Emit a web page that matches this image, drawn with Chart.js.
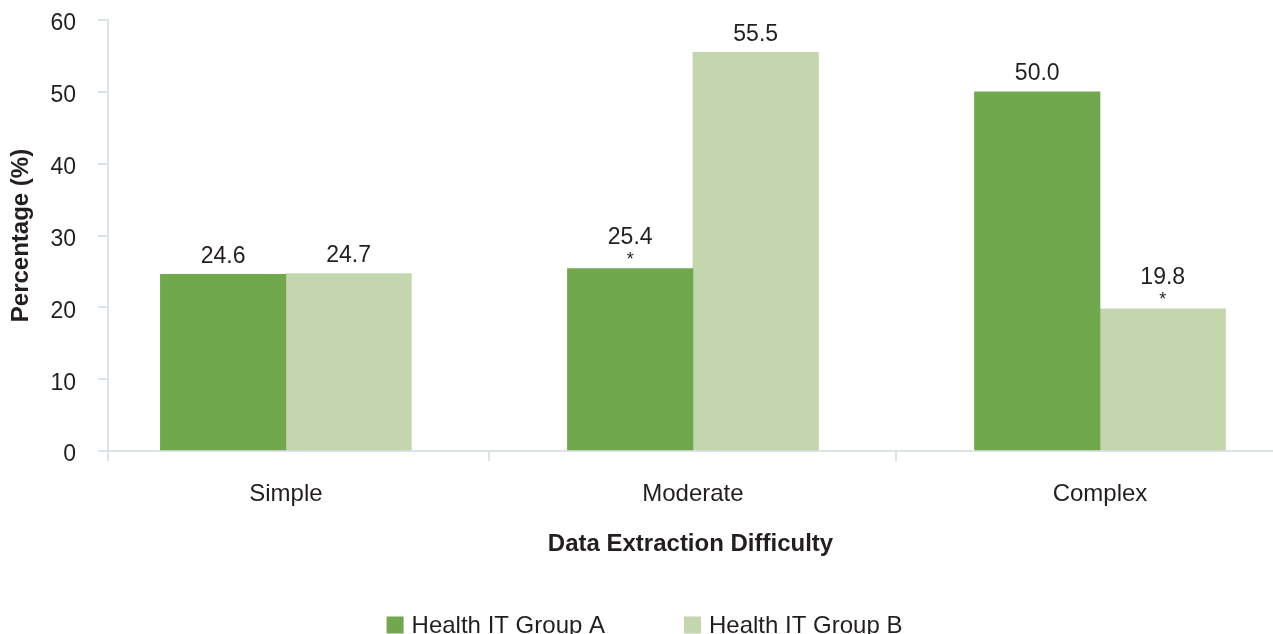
<!DOCTYPE html>
<html>
<head>
<meta charset="utf-8">
<script src="https://cdn.jsdelivr.net/npm/chart.js@4.4.1/dist/chart.umd.min.js"></script>
<style>
  html, body { margin: 0; padding: 0; background: #ffffff; overflow: hidden; }
  #wrap { width: 1273px; height: 634px; position: relative; }
</style>
</head>
<body>
<div id="wrap"><canvas id="c"></canvas></div>
<script>
// ---- data ----
const categories = ['Simple', 'Moderate', 'Complex'];
const seriesNames = ['Health IT Group A', 'Health IT Group B'];
const groupA = [24.6, 25.4, 50.0];
const groupB = [24.7, 55.5, 19.8];
const significantA = [false, true, false];
const significantB = [false, false, true];
const yTicks = [0, 10, 20, 30, 40, 50, 60];

// ---- style ----
const FONT = '"Liberation Sans", Arial, Helvetica, sans-serif';
const TEXT = '#231f20';
const AXIS = '#dde3ea';
const COLOR_A = '#72a84d';
const COLOR_B = '#c3d6ae';

const sigFlags = [significantA, significantB];

const valueLabels = {
  id: 'valueLabels',
  afterDatasetsDraw(chart) {
    const ctx = chart.ctx;
    ctx.save();
    ctx.fillStyle = TEXT;
    ctx.textAlign = 'center';
    ctx.textBaseline = 'middle';
    chart.data.datasets.forEach((ds, di) => {
      const meta = chart.getDatasetMeta(di);
      meta.data.forEach((bar, i) => {
        const v = ds.data[i].y;
        const sig = sigFlags[di][i];
        ctx.font = '23px ' + FONT;
        ctx.fillText(v.toFixed(1), bar.x, bar.y - (sig ? 31 : 18));
        if (sig) {
          ctx.font = '18px ' + FONT;
          ctx.fillText('*', bar.x, bar.y - 9);
        }
      });
    });
    ctx.restore();
  }
};

const customLegend = {
  id: 'customLegend',
  afterDraw(chart) {
    const ctx = chart.ctx;
    ctx.save();
    ctx.font = '24px ' + FONT;
    ctx.textBaseline = 'middle';
    ctx.textAlign = 'left';
    const box = 17, gapBox = 8, gapItem = 79;
    const items = chart.data.datasets.map(d => ({ text: d.label, color: d.backgroundColor, w: ctx.measureText(d.label).width }));
    let total = 0;
    items.forEach((it, i) => { total += box + gapBox + it.w + (i < items.length - 1 ? gapItem : 0); });
    let x = chart.width / 2 + 8 - total / 2;
    const y = 625;
    items.forEach(it => {
      ctx.fillStyle = it.color;
      ctx.fillRect(x, y - box / 2, box, box);
      x += box + gapBox;
      ctx.fillStyle = TEXT;
      ctx.fillText(it.text, x, y + 1);
      x += it.w + gapItem;
    });
    ctx.restore();
  }
};

new Chart(document.getElementById('c'), {
  type: 'bar',
  data: {
    datasets: [
      { label: seriesNames[0], data: groupA.map((v, i) => ({ x: i, y: v })), backgroundColor: COLOR_A, borderWidth: 0 },
      { label: seriesNames[1], data: groupB.map((v, i) => ({ x: i, y: v })), backgroundColor: COLOR_B, borderWidth: 0 }
    ]
  },
  options: {
    responsive: true,
    maintainAspectRatio: false,
    animation: false,
    layout: { padding: { top: 0, right: 0, bottom: 0, left: 0 } },
    datasets: { bar: { barThickness: 125.5 } },
    plugins: {
      legend: { display: false },
      tooltip: { enabled: false }
    },
    scales: {
      x: {
        type: 'linear',
        offset: false,
        min: -0.437,
        max: 2.425,
        afterBuildTicks(scale) {
          scale.ticks = [scale.min, 0, 0.5, 1, 1.5, 2].map(v => ({ value: v }));
        },
        afterFit(scale) { scale.height = 183; },
        ticks: {
          autoSkip: false,
          maxRotation: 0,
          padding: 19,
          color: TEXT,
          font: { family: FONT, size: 24 },
          callback: v => (Number.isInteger(v) ? categories[v] : '')
        },
        grid: {
          offset: false,
          drawOnChartArea: false,
          drawTicks: true,
          tickLength: 10,
          lineWidth: 2,
          tickColor: c => (c.tick && Number.isInteger(c.tick.value) ? 'rgba(0,0,0,0)' : AXIS)
        },
        border: { display: true, color: AXIS, width: 2 },
        title: {
          display: true,
          text: 'Data Extraction Difficulty',
          color: TEXT,
          font: { family: FONT, size: 24, weight: 'bold' },
          padding: { top: 0, bottom: 75 }
        }
      },
      y: {
        min: 0,
        max: 60,
        afterBuildTicks(scale) {
          scale.ticks = yTicks.map(v => ({ value: v }));
        },
        afterFit(scale) { scale.width = 108; scale.paddingTop = 20; },
        ticks: {
          padding: 22,
          labelOffset: 4,
          color: TEXT,
          font: { family: FONT, size: 23 }
        },
        grid: {
          drawOnChartArea: false,
          drawTicks: true,
          tickLength: 10,
          lineWidth: 2,
          tickColor: AXIS
        },
        border: { display: true, color: AXIS, width: 2 },
        title: {
          display: true,
          text: 'Percentage (%)',
          color: TEXT,
          font: { family: FONT, size: 24, weight: 'bold' },
          padding: { top: 7, bottom: 0 }
        }
      }
    }
  },
  plugins: [valueLabels, customLegend]
});
</script>
</body>
</html>
